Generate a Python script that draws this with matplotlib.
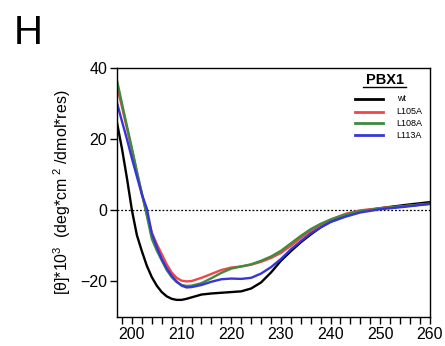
import matplotlib
matplotlib.use("Agg")
import matplotlib.pyplot as plt
from matplotlib.ticker import MultipleLocator

plt.rcParams["font.family"] = ["Liberation Sans", "DejaVu Sans"]
plt.rcParams["mathtext.fontset"] = "custom"
plt.rcParams["mathtext.rm"] = "Liberation Sans"
plt.rcParams["mathtext.it"] = "Liberation Sans"

WAVELENGTH = [197, 198, 199, 200, 201, 202, 203, 204, 205, 206, 207, 208, 209, 210,
              211, 212, 214, 216, 218, 220, 222, 224, 226, 228, 230, 232, 234, 236,
              238, 240, 243, 246, 250, 255, 260]

WT = [24.6, 17.3, 9.0, 0.0, -7.0, -11.5, -15.6, -18.8, -21.2, -23.0, -24.2, -24.9, -25.2, -25.2,
      -24.9, -24.5, -23.7, -23.4, -23.2, -23.0, -22.8, -22.0, -20.3, -17.5, -14.2, -11.5,
      -9.0, -6.8, -4.8, -3.2, -1.5, -0.3, 0.6, 1.5, 2.3]
L105A = [35.0, 29, 23, 17, 10.5, 4.5, -1.0, -6.3, -9.5, -12.3, -15.2, -17.5, -19.0, -19.8,
         -20.0, -19.9, -19.0, -17.9, -16.8, -16.1, -15.8, -15.3, -14.5, -13.4, -12.0, -10.0,
         -7.8, -5.8, -4.0, -2.6, -1.0, 0.0, 0.6, 1.2, 1.8]
L108A = [36.5, 30, 23.7, 17.4, 11, 4.8, -1.5, -8.0, -11.3, -14.1, -16.8, -18.8, -20.2, -21.0,
         -21.3, -21.2, -20.5, -19.1, -17.6, -16.4, -15.8, -15.2, -14.2, -13.0, -11.4, -9.3,
         -7.2, -5.3, -3.8, -2.6, -1.2, -0.2, 0.5, 1.2, 1.9]
L113A = [30.2, 25, 20, 14.6, 9.5, 4.5, 0.5, -6.5, -10.3, -13.7, -16.3, -18.4, -20.0, -21.2,
         -21.7, -21.6, -21.0, -20.1, -19.4, -19.2, -19.3, -19.0, -17.8, -16.0, -13.7, -11.0,
         -8.7, -6.5, -4.8, -3.3, -1.8, -0.6, 0.3, 1.0, 1.8]

SERIES = [("wt", WT, "#000000"),
          ("L105A", L105A, "#f04848"),
          ("L108A", L108A, "#3f8a3f"),
          ("L113A", L113A, "#3535d8")]

fig = plt.figure(figsize=(4.45, 3.46), dpi=100)
ax = fig.add_axes([0.263, 0.084, 0.703, 0.719])

ax.axhline(0, color="black", linestyle=(0, (1.5, 1.5)), linewidth=0.9, zorder=1)
for name, vals, color in SERIES:
    ax.plot(WAVELENGTH, vals, color=color, linewidth=1.7, label=name, zorder=2)

ax.set_xlim(197, 260)
ax.set_ylim(-30, 40)
ax.set_xticks(range(200, 261, 10))
ax.xaxis.set_minor_locator(MultipleLocator(2))
ax.set_yticks([-20, 0, 20, 40])
ax.tick_params(axis="both", which="major", direction="out", length=5, width=1, labelsize=11.5, pad=2)
ax.tick_params(axis="x", which="minor", direction="out", length=5, width=1)
for sp in ax.spines.values():
    sp.set_linewidth(1)

ax.set_ylabel(r"[$\theta$]*10$^3$  (deg*cm$^{\ 2}$ /dmol*res)", fontsize=11.5, labelpad=5)

# legend drawn by hand so the title can be underlined
ax.text(0.855, 0.952, "PBX1", transform=ax.transAxes, fontsize=10.5, fontweight="bold",
        ha="center", va="center")
ax.plot([0.787, 0.924], [0.925, 0.925], transform=ax.transAxes, color="black", linewidth=1)
ys = [0.878, 0.825, 0.778, 0.731]
for (name, vals, color), y in zip(SERIES, ys):
    ax.plot([0.76, 0.851], [y, y], transform=ax.transAxes, color=color, linewidth=2)
    ax.text(0.894, y, name, transform=ax.transAxes, fontsize=6.5, ha="left", va="center")

fig.text(0.03, 0.96, "H", fontsize=29, ha="left", va="top")

fig.savefig("out.png", dpi=100, facecolor="white")
